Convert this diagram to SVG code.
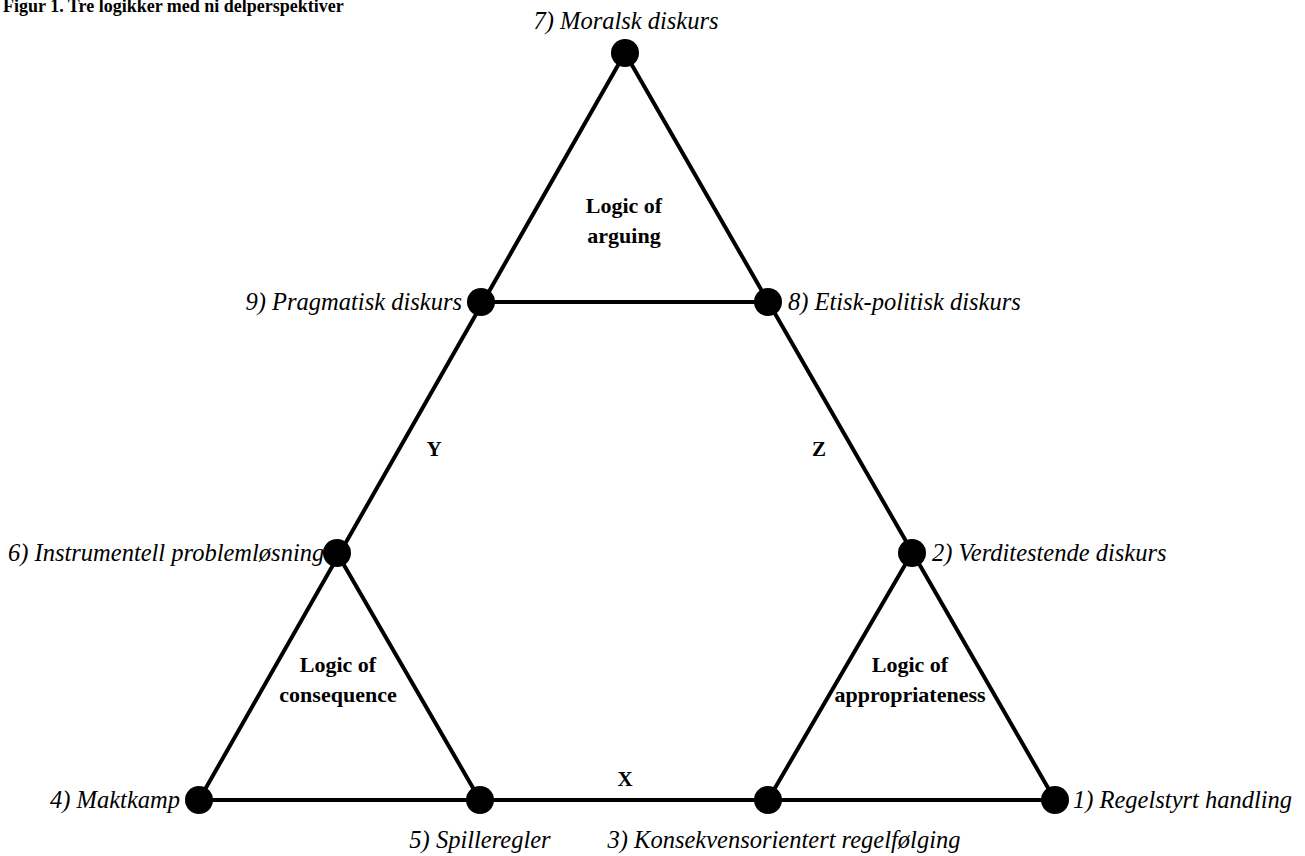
<svg xmlns="http://www.w3.org/2000/svg" width="1305" height="856" viewBox="0 0 1305 856">
<style>
.lbl{font-family:"Liberation Serif","Times New Roman",serif;font-style:italic;font-size:24.5px;fill:#000}
.logic{font-family:"Liberation Serif","Times New Roman",serif;font-weight:bold;font-size:22px;fill:#000;text-anchor:middle}
.axis{font-family:"Liberation Serif","Times New Roman",serif;font-weight:bold;font-size:21px;fill:#000;text-anchor:middle}
.title{font-family:"Liberation Serif","Times New Roman",serif;font-weight:bold;font-size:18px;fill:#000}
.edge{stroke:#000;stroke-width:4;fill:none;stroke-linecap:round}
.dot{fill:#000}
</style>
<rect width="1305" height="856" fill="#fff"/>
<text class="title" x="3" y="12">Figur 1. Tre logikker med ni delperspektiver</text>
<g id="connectors">
<line class="edge" x1="625" y1="53" x2="199" y2="800"/>
<line class="edge" x1="625" y1="53" x2="1055" y2="800"/>
<line class="edge" x1="199" y1="800" x2="1055" y2="800"/>
<line class="edge" x1="481" y1="302" x2="768" y2="302"/>
<line class="edge" x1="337" y1="553" x2="480" y2="800"/>
<line class="edge" x1="912" y1="553" x2="768" y2="800"/>
</g>
<g id="node7"><circle class="dot" cx="625" cy="53" r="14"/><text class="lbl" x="626" y="29" text-anchor="middle">7) Moralsk diskurs</text></g>
<g id="node9"><circle class="dot" cx="481" cy="302" r="14"/><text class="lbl" x="462" y="310" text-anchor="end">9) Pragmatisk diskurs</text></g>
<g id="node8"><circle class="dot" cx="768" cy="302" r="14"/><text class="lbl" x="788" y="310">8) Etisk-politisk diskurs</text></g>
<g id="node6"><circle class="dot" cx="337" cy="553" r="14"/><text class="lbl" x="8" y="561">6) Instrumentell problemløsning</text></g>
<g id="node2"><circle class="dot" cx="912" cy="553" r="14"/><text class="lbl" x="932" y="561">2) Verditestende diskurs</text></g>
<g id="node4"><circle class="dot" cx="199" cy="800" r="14"/><text class="lbl" x="180" y="808" text-anchor="end">4) Maktkamp</text></g>
<g id="node5"><circle class="dot" cx="480" cy="800" r="14"/><text class="lbl" x="480" y="848" text-anchor="middle">5) Spilleregler</text></g>
<g id="node3"><circle class="dot" cx="768" cy="800" r="14"/><text class="lbl" x="784" y="848" text-anchor="middle">3) Konsekvensorientert regelfølging</text></g>
<g id="node1"><circle class="dot" cx="1055" cy="800" r="14"/><text class="lbl" x="1073" y="808">1) Regelstyrt handling</text></g>
<g id="logic-arguing"><text class="logic" x="624" y="213">Logic of</text><text class="logic" x="624" y="243">arguing</text></g>
<g id="logic-consequence"><text class="logic" x="338" y="672">Logic of</text><text class="logic" x="338" y="702">consequence</text></g>
<g id="logic-appropriateness"><text class="logic" x="910" y="672">Logic of</text><text class="logic" x="910" y="702">appropriateness</text></g>
<g id="axes"><text class="axis" x="434" y="456">Y</text><text class="axis" x="819" y="456">Z</text><text class="axis" x="625" y="786">X</text></g>
</svg>
